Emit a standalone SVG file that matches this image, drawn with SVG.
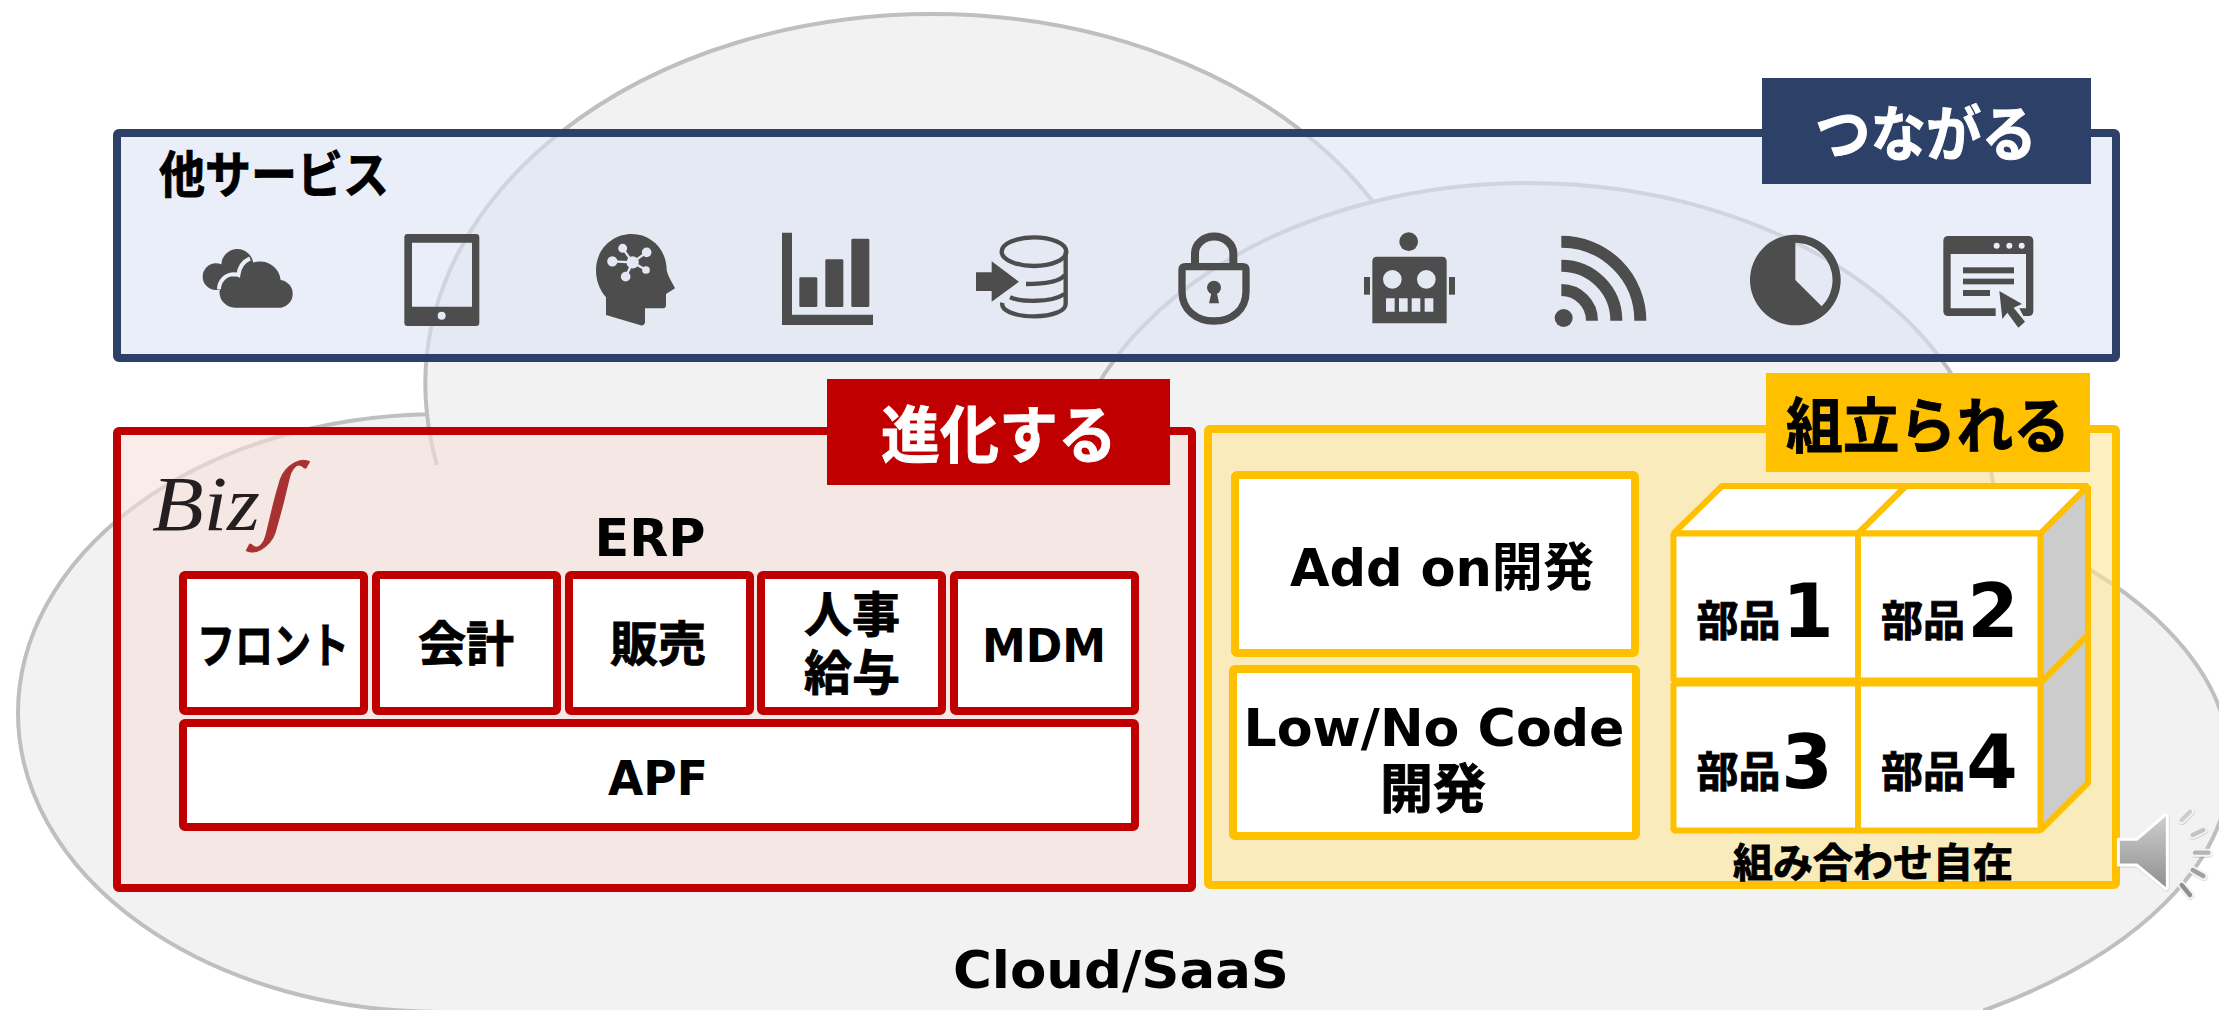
<svg xmlns="http://www.w3.org/2000/svg" width="2219" height="1010" viewBox="0 0 2219 1010">
<style>
.jp{font-family:"DejaVu Sans","Noto Sans CJK JP",sans-serif;font-weight:700;fill:#000;text-anchor:middle}
.hv{stroke:#000;stroke-width:.9}
.wh{fill:#fff;stroke:#fff;stroke-width:.9}
.cl{fill:none;stroke:#bfbfbf;stroke-width:4}
.ic{fill:#4d4d4d}
.is{fill:none;stroke:#4d4d4d}
.rb{fill:#fff;stroke:#c00000;stroke-width:8}
.yb{fill:#fff;stroke:#ffc000;stroke-width:8}
.cu{fill:#fff;stroke:#ffc000;stroke-width:6;stroke-linejoin:bevel}
.cs{fill:#ccc;stroke:#ffc000;stroke-width:6;stroke-linejoin:bevel}
</style>
<defs>
<linearGradient id="sp" x1="0" y1="0" x2="0" y2="1"><stop offset="0" stop-color="#cfcfcf"/><stop offset="1" stop-color="#8f8f8f"/></linearGradient>
<filter id="sh" x="-20%" y="-20%" width="140%" height="140%"><feDropShadow dx="1" dy="2" stdDeviation="2" flood-color="#000" flood-opacity=".25"/></filter>
</defs>
<rect width="2219" height="1010" fill="#fff"/>
<g id="cloud">
<path d="M427,414.140 A507,370 0 0 1 932,14 A507,370 0 0 1 1373,201.700 A467,330 0 0 1 1528,183 A467,330 0 0 1 1994.700,524 A580,300 0 0 1 2230,765 A580,300 0 0 1 1985,1010 V1030 H440 V1012 A422,299 0 0 1 18,713 A422,299 0 0 1 427,414.140 Z" fill="#f2f2f2" stroke="#bfbfbf" stroke-width="4"/>
<path class="cl" d="M427,414 A507,370 0 0 0 437,465"/>
<path class="cl" d="M1373,201.700 A467,330 0 0 0 1085,408.600"/>
<text class="jp" x="1121" y="988" font-size="52" textLength="336" lengthAdjust="spacingAndGlyphs">Cloud/SaaS</text>
</g>
<g id="other-services">
<rect x="117" y="133" width="1999" height="225" rx="2" fill="#dae3f3" fill-opacity=".6" stroke="#2c4068" stroke-width="8"/>
<text class="jp hv" x="274" y="193" font-size="50" textLength="230" lengthAdjust="spacingAndGlyphs">他サービス</text>
</g>
<g id="tag-connect">
<rect x="1762" y="78" width="329" height="106" fill="#2c4068"/>
<text class="jp wh" x="1926" y="156" font-size="60" textLength="222" lengthAdjust="spacingAndGlyphs" style="fill:#fff">つながる</text>
</g>
<g id="icon-cloud">
<g transform="translate(180,220) scale(.33333)">
<circle class="ic" cx="108" cy="170" r="40"/><circle class="ic" cx="172" cy="135" r="48"/>
<path class="ic" d="M165,263 A45,45 0 0 1 165,170 C170,170 175,170 180,172 A62,62 0 0 1 302,180 A42,42 0 0 1 303,263 Z"/>
<path d="M122,215 A45,45 0 0 1 165,170 C170,170 175,170 180,172 A62,62 0 0 1 215,122" fill="none" stroke="#e9eefa" stroke-width="12" transform="translate(-5,-7)"/>
</g>
</g>
<g id="icon-tablet">
<g transform="translate(180,220) scale(.33333)">
<path class="ic" fill-rule="evenodd" d="M683,42 H888 Q898,42 898,52 V308 Q898,318 888,318 H683 Q673,318 673,308 V52 Q673,42 683,42 Z M696,68 V260 H876 V68 Z M785,275 A12,12 0 1 0 785,299 A12,12 0 1 0 785,275 Z"/>
</g>
</g>
<g id="icon-head">
<g transform="translate(570,220) scale(.33333)">
<path class="ic" d="M108,285 V232 C85,205 78,175 78,150 C78,90 125,42 185,42 C245,42 290,90 290,150 C292,165 308,190 315,205 L288,222 V255 Q288,265 278,265 H225 V308 Q222,318 212,316 Z"/>
<g fill="#e4e8f3" stroke="#e4e8f3" stroke-width="7">
<path fill="none" d="M188,127 L158,85 M188,127 L230,97 M188,127 L127,124 M188,127 L228,150 M188,127 L167,170"/>
<circle cx="188" cy="127" r="15"/><circle cx="158" cy="85" r="10"/><circle cx="230" cy="97" r="11"/><circle cx="127" cy="124" r="12"/><circle cx="228" cy="150" r="8"/><circle cx="167" cy="170" r="11"/>
</g>
</g>
</g>
<g id="icon-chart">
<g transform="translate(570,220) scale(.33333)">
<path class="ic" d="M636,38 H666 V284 H909 V315 H636 Z"/>
<rect class="ic" x="688" y="172" width="54" height="89" rx="4"/><rect class="ic" x="766" y="118" width="54" height="143" rx="4"/><rect class="ic" x="844" y="56" width="54" height="205" rx="4"/>
</g>
</g>
<g id="icon-database">
<g transform="translate(570,220) scale(.33333)">
<path class="ic" d="M1218,157 H1265 V124 L1347,185 L1265,245 V213 H1218 Z"/>
<g class="is" stroke-width="13">
<ellipse cx="1392" cy="95" rx="97" ry="43"/>
<path d="M1487,95 V250 C1488,272 1450,289 1392,289 C1330,289 1292,270 1297,248"/>
<path d="M1368,192 C1420,192 1470,185 1484,165"/>
<path d="M1320,232 C1350,245 1440,250 1484,222"/>
</g>
</g>
</g>
<g id="icon-lock">
<g transform="translate(1160,220) scale(.33333)">
<path class="is" stroke-width="24" d="M105,135 V100 A57,50 0 0 1 220,100 V135"/>
<path class="is" stroke-width="22" d="M76,140 H248 Q258,140 258,150 V215 C258,270 215,303 162,303 C110,303 66,270 66,215 V150 Q66,140 76,140 Z"/>
<circle class="ic" cx="162" cy="203" r="21"/><path class="ic" d="M155,215 H170 L177,250 H147 Z"/>
</g>
</g>
<g id="icon-robot">
<g transform="translate(1160,220) scale(.33333)">
<circle class="ic" cx="746" cy="65" r="28"/>
<path class="ic" fill-rule="evenodd" d="M651,110 H846 Q860,110 860,124 V310 H637 V124 Q637,110 651,110 Z M697,150 A28,28 0 1 0 697,206 A28,28 0 1 0 697,150 Z M799,150 A28,28 0 1 0 799,206 A28,28 0 1 0 799,150 Z M678,235 V275 H704 V235 Z M717,235 V275 H743 V235 Z M755,235 V275 H781 V235 Z M794,235 V275 H820 V235 Z"/>
<rect class="ic" x="612" y="171" width="18" height="53"/><rect class="ic" x="867" y="171" width="18" height="53"/>
</g>
</g>
<g id="icon-rss">
<g transform="translate(1160,220) scale(.33333)">
<circle class="ic" cx="1211" cy="294" r="27"/>
<g class="is" stroke-width="36">
<path d="M1204,65 A237,237 0 0 1 1441,302"/><path d="M1204,137 A165,165 0 0 1 1369,302"/><path d="M1204,210 A92,92 0 0 1 1296,302"/>
</g>
</g>
</g>
<g id="icon-pie">
<g transform="translate(1730,220) scale(.33333)">
<path class="ic" fill-rule="evenodd" d="M196,44 A136,136 0 1 0 196,316 A136,136 0 1 0 196,44 Z M196,68 A112,112 0 0 1 275,259 L196,180 Z"/>
</g>
</g>
<g id="icon-browser">
<g transform="translate(1730,220) scale(.33333)">
<path class="ic" fill-rule="evenodd" d="M655,48 H895 Q910,48 910,63 V272 Q910,288 895,288 H880 L868,265 H888 V102 H662 V265 H797 V288 H655 Q640,288 640,272 V63 Q640,48 655,48 Z M800,68 A9,9 0 1 0 800,86 A9,9 0 1 0 800,68 Z M838,68 A9,9 0 1 0 838,86 A9,9 0 1 0 838,68 Z M875,68 A9,9 0 1 0 875,86 A9,9 0 1 0 875,68 Z"/>
<rect class="ic" x="699" y="142" width="153" height="18"/><rect class="ic" x="699" y="176" width="153" height="17"/><rect class="ic" x="699" y="210" width="81" height="18"/>
<path class="ic" d="M808,213 L876,252 L851,263 L885,305 L865,323 L832,278 L817,297 Z"/>
</g>
</g>
<g id="panel-erp">
<rect x="117" y="431" width="1075" height="457" rx="2" fill="#f7dfda" fill-opacity=".6" stroke="#c00000" stroke-width="8"/>
</g>
<g id="tag-evolve">
<rect x="827" y="379" width="343" height="106" fill="#c00000"/>
<text class="jp wh" x="999" y="458" font-size="62" textLength="236" lengthAdjust="spacingAndGlyphs" style="fill:#fff">進化する</text>
</g>
<g id="logo-biz">
<text x="152" y="530" font-family="'Liberation Serif',serif" font-style="italic" font-size="78" fill="#231f20" textLength="108" lengthAdjust="spacingAndGlyphs">Biz</text>
<text x="0" y="0" transform="translate(258,527) skewX(-14) scale(1.5,1.3)" font-family="'Liberation Serif',serif" font-style="italic" font-size="72" fill="#a83232" stroke="#a83232" stroke-width=".8">∫</text>
</g>
<g id="label-erp"><text class="jp" x="650" y="556" font-size="52" textLength="111" lengthAdjust="spacingAndGlyphs">ERP</text></g>
<g id="node-front"><rect class="rb" x="183" y="575" width="181" height="136" rx="2"/><text class="jp hv" x="273" y="663" font-size="48" textLength="152" lengthAdjust="spacingAndGlyphs">フロント</text></g>
<g id="node-account"><rect class="rb" x="376" y="575" width="181" height="136" rx="2"/><text class="jp hv" x="466" y="661" font-size="48">会計</text></g>
<g id="node-sales"><rect class="rb" x="569" y="575" width="181" height="136" rx="2"/><text class="jp hv" x="658" y="661" font-size="48">販売</text></g>
<g id="node-hr"><rect class="rb" x="761" y="575" width="181" height="136" rx="2"/><text class="jp hv" x="852" y="632" font-size="48">人事</text><text class="jp hv" x="852" y="690" font-size="48">給与</text></g>
<g id="node-mdm"><rect class="rb" x="954" y="575" width="181" height="136" rx="2"/><text class="jp" x="1044" y="662" font-size="47" textLength="124" lengthAdjust="spacingAndGlyphs">MDM</text></g>
<g id="node-apf"><rect class="rb" x="183" y="723" width="952" height="104" rx="2"/><text class="jp" x="658" y="795" font-size="48" textLength="100" lengthAdjust="spacingAndGlyphs">APF</text></g>
<g id="panel-build">
<rect x="1208" y="429" width="908" height="456" rx="2" fill="#ffe699" fill-opacity=".6" stroke="#ffc000" stroke-width="8"/>
</g>
<g id="tag-build">
<rect x="1766" y="373" width="324" height="99" fill="#ffc000"/>
<text class="jp hv" x="1928" y="448" font-size="60" textLength="284" lengthAdjust="spacingAndGlyphs">組立られる</text>
</g>
<g id="node-addon"><rect class="yb" x="1235" y="475" width="400" height="178" rx="2"/><text class="jp" x="1442" y="586" font-size="52" textLength="304" lengthAdjust="spacingAndGlyphs">Add on開発</text></g>
<g id="node-lowcode"><rect class="yb" x="1233" y="669" width="403" height="167" rx="2"/><text class="jp" x="1434" y="746" font-size="52" textLength="381" lengthAdjust="spacingAndGlyphs">Low/No Code</text><text class="jp hv" x="1433" y="808" font-size="53">開発</text></g>
<g id="cube-sides">
<path class="cu" d="M1673.500,533.500 L1722,486 H1906 L1858,533.500 Z"/>
<path class="cu" d="M1858,533.500 L1906,486 H2088 L2040.500,533.500 Z"/>
<path class="cs" d="M2040.500,533.500 L2088,486 V635 L2040.500,683 Z"/>
<path class="cs" d="M2040.500,683 L2088,635 V783 L2040.500,830.500 Z"/>
</g>
<g id="part-1"><rect class="cu" x="1673.500" y="533.500" width="185" height="147"/><text class="jp hv" x="1738.500" y="636" font-size="42">部品</text><text class="jp" x="1808" y="637" font-size="74">1</text></g>
<g id="part-2"><rect class="cu" x="1858" y="533.500" width="182.500" height="147"/><text class="jp hv" x="1923" y="636" font-size="42">部品</text><text class="jp" x="1993" y="637" font-size="74">2</text></g>
<g id="part-3"><rect class="cu" x="1673.500" y="683.500" width="185" height="147"/><text class="jp hv" x="1738.500" y="787" font-size="42">部品</text><text class="jp" x="1807" y="788" font-size="74">3</text></g>
<g id="part-4"><rect class="cu" x="1858" y="683.500" width="182.500" height="147"/><text class="jp hv" x="1923" y="787" font-size="42">部品</text><text class="jp" x="1992" y="788" font-size="74">4</text></g>
<g id="label-combine"><text class="jp hv" x="1873" y="877" font-size="40">組み合わせ自在</text></g>
<g id="speaker" transform="translate(2040,780) scale(.33333)" filter="url(#sh)">
<path d="M235,178 H290 L375,105 Q382,103 382,112 V320 Q382,330 375,325 L290,255 H235 Z" fill="url(#sp)" stroke="#fff" stroke-width="9" stroke-linejoin="round"/>
<g stroke-linecap="round" fill="none">
<path stroke="#f4f4f4" stroke-width="24" d="M425,120 L450,95 M458,165 L490,150 M465,218 L505,218 M458,270 L490,288 M425,315 L450,345"/>
<path stroke="#cfcfcf" stroke-width="13" d="M425,120 L450,95"/><path stroke="#c4c4c4" stroke-width="13" d="M458,165 L490,150"/><path stroke="#b4b4b4" stroke-width="13" d="M465,218 L505,218"/><path stroke="#a0a0a0" stroke-width="13" d="M458,270 L490,288"/><path stroke="#8f8f8f" stroke-width="13" d="M425,315 L450,345"/>
</g>
</g>
</svg>
